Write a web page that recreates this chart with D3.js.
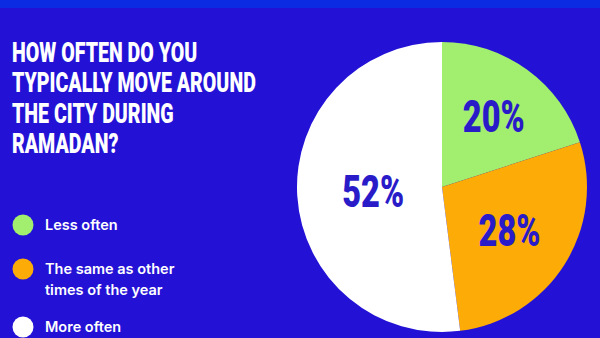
<!DOCTYPE html>
<meta charset="utf-8">
<head>
	<title>Ramadan mobility</title>
	<script src="https://d3js.org/d3.v7.min.js"></script>
</head>
<style>
	body { margin: 0; background: #2312d6; }
	svg { display: block; }
	.title { font-family: Roboto, sans-serif; font-weight: 900; fill: #fff; }
	.legend { font-family: Inter, "Noto Sans", sans-serif; font-weight: 600; fill: #fff; font-size: 14.5px; }
	.pct { font-family: Roboto, sans-serif; font-weight: 900; fill: #2a1bc9; }
</style>
<body>
<div id="chart"></div>
<script>

var categories = ["Less often", "The same as other times of the year", "More often"];
var legendLines = [["Less often"], ["The same as other", "times of the year"], ["More often"]];
var values = [20, 28, 52];
var colours = ["#a2ee6e", "#fdab07", "#ffffff"];
var titleLines = ["HOW OFTEN DO YOU", "TYPICALLY MOVE AROUND", "THE CITY DURING", "RAMADAN?"];

var width = 600, height = 338;
var svg = d3.select("#chart").append("svg")
	.attr("width", width)
	.attr("height", height);

svg.append("rect").attr("width", width).attr("height", height).attr("fill", "#2312d6");
svg.append("rect").attr("width", width).attr("height", 8).attr("fill", "#0a2be2");

// title, squeezed to look like a condensed face
var title = svg.append("g").attr("transform", "translate(12,0) scale(0.7,1)");
title.selectAll("text")
	.data(titleLines)
	.enter().append("text")
	.attr("class", "title")
	.attr("x", 0)
	.attr("y", function(d, i) { return 62 + i * 30.5; })
	.style("font-size", "28px")
	.text(function(d) { return d; });

// legend
var legendY = [225, 269, 327];
var leg = svg.selectAll(".leg")
	.data(categories)
	.enter().append("g")
	.attr("class", "leg")
	.attr("transform", function(d, i) { return "translate(23," + legendY[i] + ")"; });

leg.append("circle").attr("r", 10.5).attr("fill", function(d, i) { return colours[i]; });
leg.each(function(d, i) {
	d3.select(this).selectAll("text")
		.data(legendLines[i])
		.enter().append("text")
		.attr("class", "legend")
		.attr("x", 22)
		.attr("y", function(t, j) { return 5 + j * 21; })
		.text(function(t) { return t; });
});

// pie
var cx = 442, cy = 187, r = 145;
var labelRadius = [88, 80, 69];
var pie = d3.pie().sort(null).value(function(d) { return d; });
var arc = d3.arc().innerRadius(0).outerRadius(r);
var arcs = pie(values);

var g = svg.append("g").attr("transform", "translate(" + cx + "," + cy + ")");
g.selectAll("path")
	.data(arcs)
	.enter().append("path")
	.attr("d", arc)
	.attr("fill", function(d, i) { return colours[i]; });

g.selectAll(".pctg")
	.data(arcs)
	.enter().append("g")
	.attr("class", "pctg")
	.attr("transform", function(d, i) {
		var c = d3.arc().innerRadius(labelRadius[i]).outerRadius(labelRadius[i]).centroid(d);
		return "translate(" + c[0] + "," + c[1] + ") scale(0.74,1)";
	})
	.append("text")
	.attr("class", "pct")
	.attr("text-anchor", "middle")
	.attr("dy", "0.36em")
	.style("font-size", "44px")
	.text(function(d) { return d.data + "%"; });

</script>
</body>
</html>
